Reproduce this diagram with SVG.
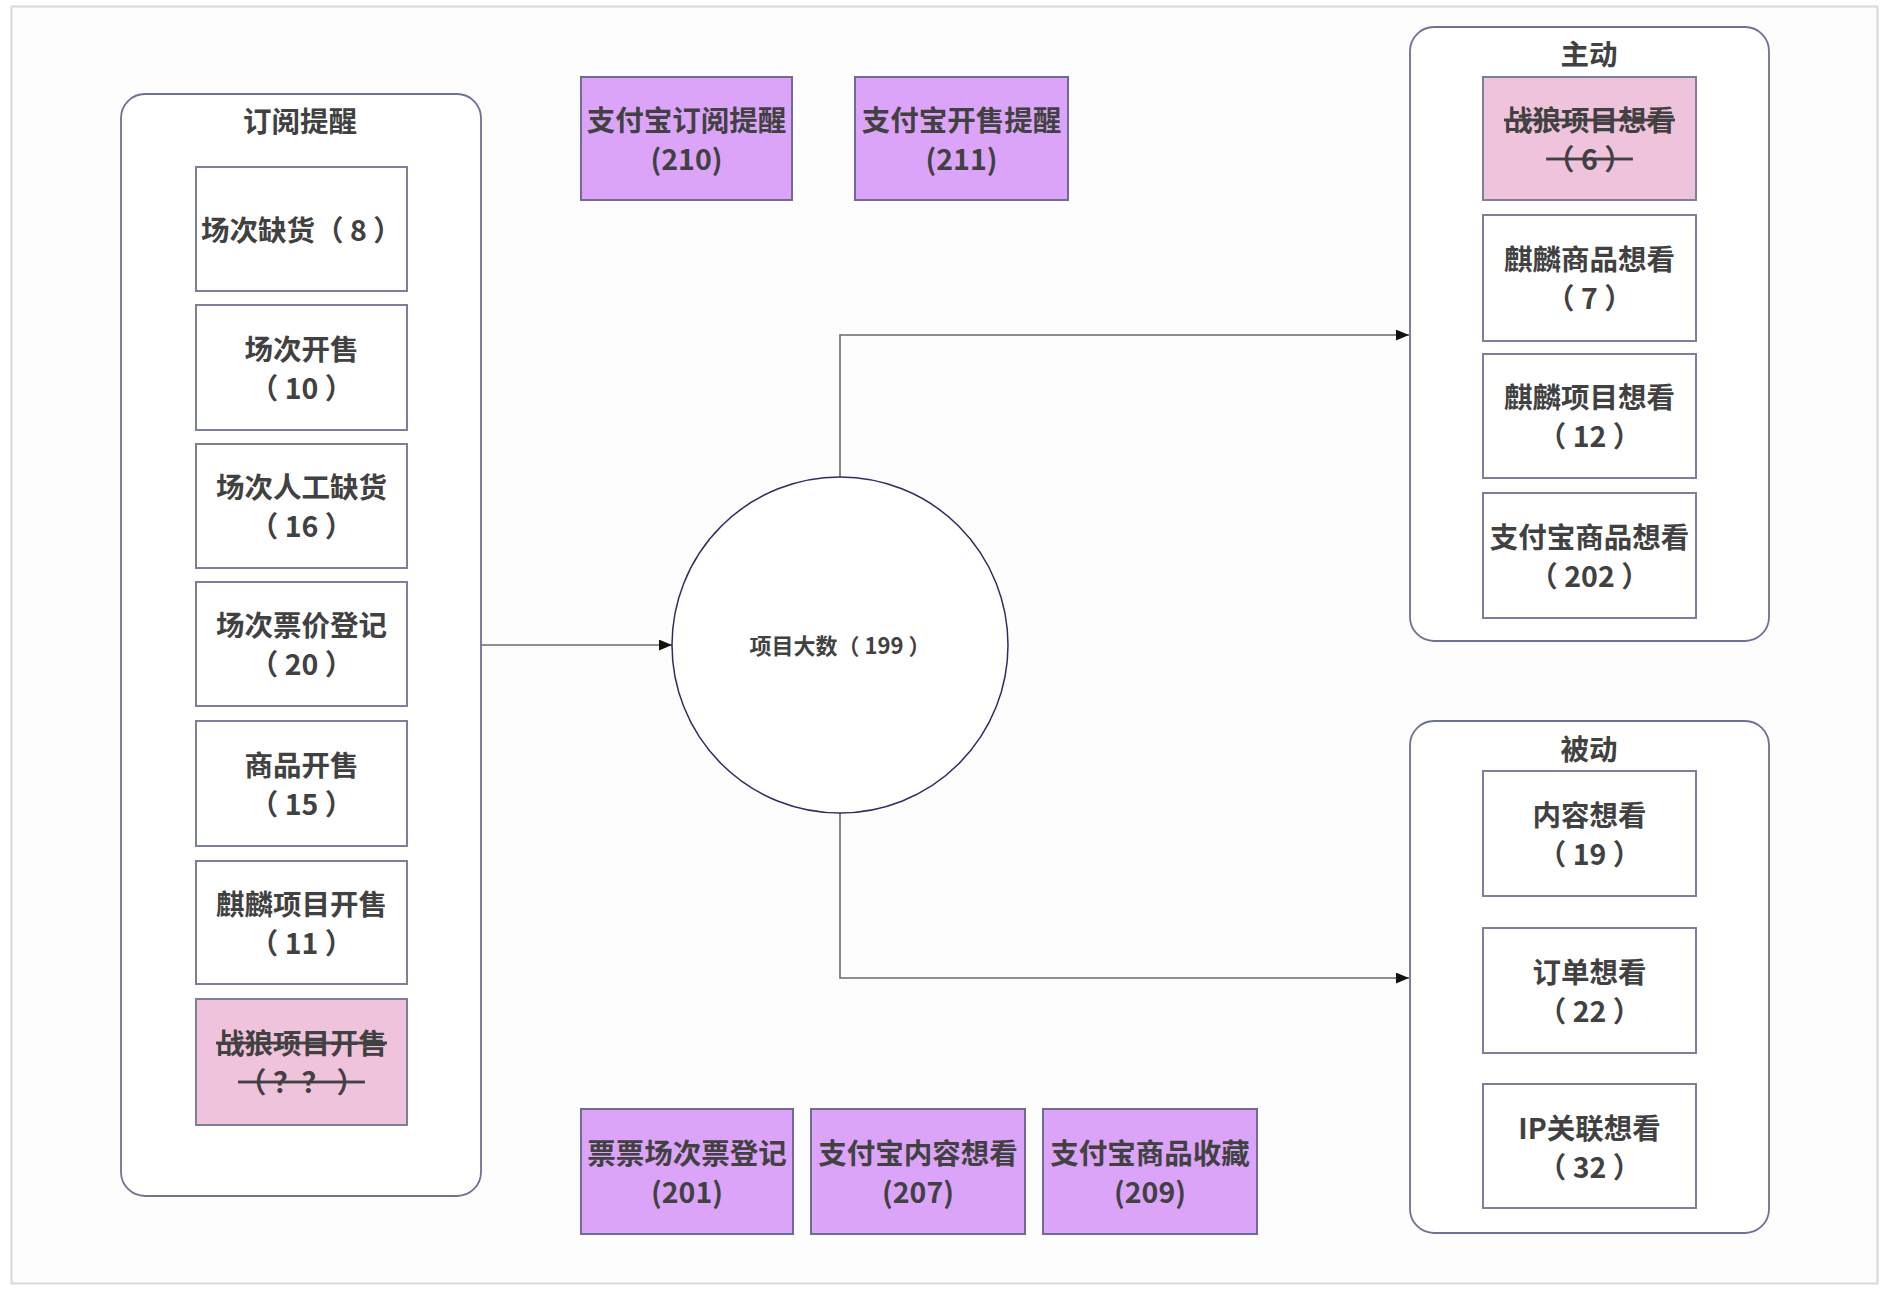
<svg xmlns="http://www.w3.org/2000/svg" width="1882" height="1292" viewBox="0 0 1882 1292">
<defs>
<style>
.t{font-family:"Noto Sans CJK SC","Noto Sans",sans-serif;font-weight:700;font-size:28.5px;fill:#414141;text-anchor:middle}
.c{font-size:22px}
.s{text-decoration:line-through}
.box{fill:#ffffff;stroke:#7b7f9c;stroke-width:2}
.pink{fill:#f0c3dc;stroke:#7b7f9c;stroke-width:2}
.purple{fill:#dba4f8;stroke:#6f6a96;stroke-width:2}
.cont{fill:#ffffff;stroke:#6e7292;stroke-width:1.8}
.conn{fill:none;stroke:#6a6a6a;stroke-width:1.6}
</style>
<marker id="arr" viewBox="0 0 12 10" refX="12" refY="5" markerWidth="13" markerHeight="11" markerUnits="userSpaceOnUse" orient="auto">
<path d="M0,0 L12,5 L0,10 z" fill="#111"/>
</marker>
</defs>
<rect x="0" y="0" width="1882" height="1292" fill="#ffffff"/>
<rect x="11.5" y="6.5" width="1866" height="1277" fill="#fdfdfd" stroke="#d8d8d8" stroke-width="2"/>

<g id="connectors">
<path class="conn" d="M481,645 H672" marker-end="url(#arr)"/>
<path class="conn" d="M840,477 V335 H1409" marker-end="url(#arr)"/>
<path class="conn" d="M840,813 V978 H1409" marker-end="url(#arr)"/>
</g>

<g id="group-subscribe">
<rect class="cont" x="121" y="94" width="360" height="1102" rx="24"/>
<text class="t" x="300" y="132">订阅提醒</text>
</g>
<g id="n-8"><rect class="box" x="196" y="167" width="211" height="124"/><text class="t" x="301.5" y="241">场次缺货（ 8 ）</text></g>
<g id="n-10"><rect class="box" x="196" y="305" width="211" height="125"/><text class="t" x="301.5" y="360">场次开售</text><text class="t" x="301.5" y="399">（ 10 ）</text></g>
<g id="n-16"><rect class="box" x="196" y="444" width="211" height="124"/><text class="t" x="301.5" y="498">场次人工缺货</text><text class="t" x="301.5" y="537">（ 16 ）</text></g>
<g id="n-20"><rect class="box" x="196" y="582" width="211" height="124"/><text class="t" x="301.5" y="636">场次票价登记</text><text class="t" x="301.5" y="675">（ 20 ）</text></g>
<g id="n-15"><rect class="box" x="196" y="721" width="211" height="125"/><text class="t" x="301.5" y="776">商品开售</text><text class="t" x="301.5" y="815">（ 15 ）</text></g>
<g id="n-11"><rect class="box" x="196" y="861" width="211" height="123"/><text class="t" x="301.5" y="915">麒麟项目开售</text><text class="t" x="301.5" y="954">（ 11 ）</text></g>
<g id="n-zl-sale"><rect class="pink" x="196" y="999" width="211" height="126"/><text class="t s" x="301.5" y="1054">战狼项目开售</text><text class="t s" x="301.5" y="1093">（ ？？ ）</text></g>

<g id="n-210"><rect class="purple" x="581" y="77" width="211" height="123"/><text class="t" x="686.5" y="131">支付宝订阅提醒</text><text class="t" x="686.5" y="170">(210)</text></g>
<g id="n-211"><rect class="purple" x="855" y="77" width="213" height="123"/><text class="t" x="961.5" y="131">支付宝开售提醒</text><text class="t" x="961.5" y="170">(211)</text></g>

<g id="n-199"><circle cx="840" cy="645" r="168" fill="#ffffff" stroke="#2e2e5e" stroke-width="1.5"/><text class="t c" x="840" y="654">项目大数（ 199 ）</text></g>

<g id="n-201"><rect class="purple" x="581" y="1109" width="212" height="125"/><text class="t" x="687" y="1164">票票场次票登记</text><text class="t" x="687" y="1203">(201)</text></g>
<g id="n-207"><rect class="purple" x="811" y="1109" width="214" height="125"/><text class="t" x="918" y="1164">支付宝内容想看</text><text class="t" x="918" y="1203">(207)</text></g>
<g id="n-209"><rect class="purple" x="1043" y="1109" width="214" height="125"/><text class="t" x="1150" y="1164">支付宝商品收藏</text><text class="t" x="1150" y="1203">(209)</text></g>

<g id="group-active">
<rect class="cont" x="1410" y="27" width="359" height="614" rx="24"/>
<text class="t" x="1589" y="65">主动</text>
</g>
<g id="n-6"><rect class="pink" x="1483" y="77" width="213" height="123"/><text class="t s" x="1589.5" y="131">战狼项目想看</text><text class="t s" x="1589.5" y="170">（ 6 ）</text></g>
<g id="n-7"><rect class="box" x="1483" y="215" width="213" height="126"/><text class="t" x="1589.5" y="270">麒麟商品想看</text><text class="t" x="1589.5" y="309">（ 7 ）</text></g>
<g id="n-12"><rect class="box" x="1483" y="354" width="213" height="124"/><text class="t" x="1589.5" y="408">麒麟项目想看</text><text class="t" x="1589.5" y="447">（ 12 ）</text></g>
<g id="n-202"><rect class="box" x="1483" y="493" width="213" height="125"/><text class="t" x="1589.5" y="548">支付宝商品想看</text><text class="t" x="1589.5" y="587">（ 202 ）</text></g>

<g id="group-passive">
<rect class="cont" x="1410" y="721" width="359" height="512" rx="24"/>
<text class="t" x="1589" y="760">被动</text>
</g>
<g id="n-19"><rect class="box" x="1483" y="771" width="213" height="125"/><text class="t" x="1589.5" y="826">内容想看</text><text class="t" x="1589.5" y="865">（ 19 ）</text></g>
<g id="n-22"><rect class="box" x="1483" y="928" width="213" height="125"/><text class="t" x="1589.5" y="983">订单想看</text><text class="t" x="1589.5" y="1022">（ 22 ）</text></g>
<g id="n-32"><rect class="box" x="1483" y="1084" width="213" height="124"/><text class="t" x="1589.5" y="1139">IP关联想看</text><text class="t" x="1589.5" y="1178">（ 32 ）</text></g>
</svg>
